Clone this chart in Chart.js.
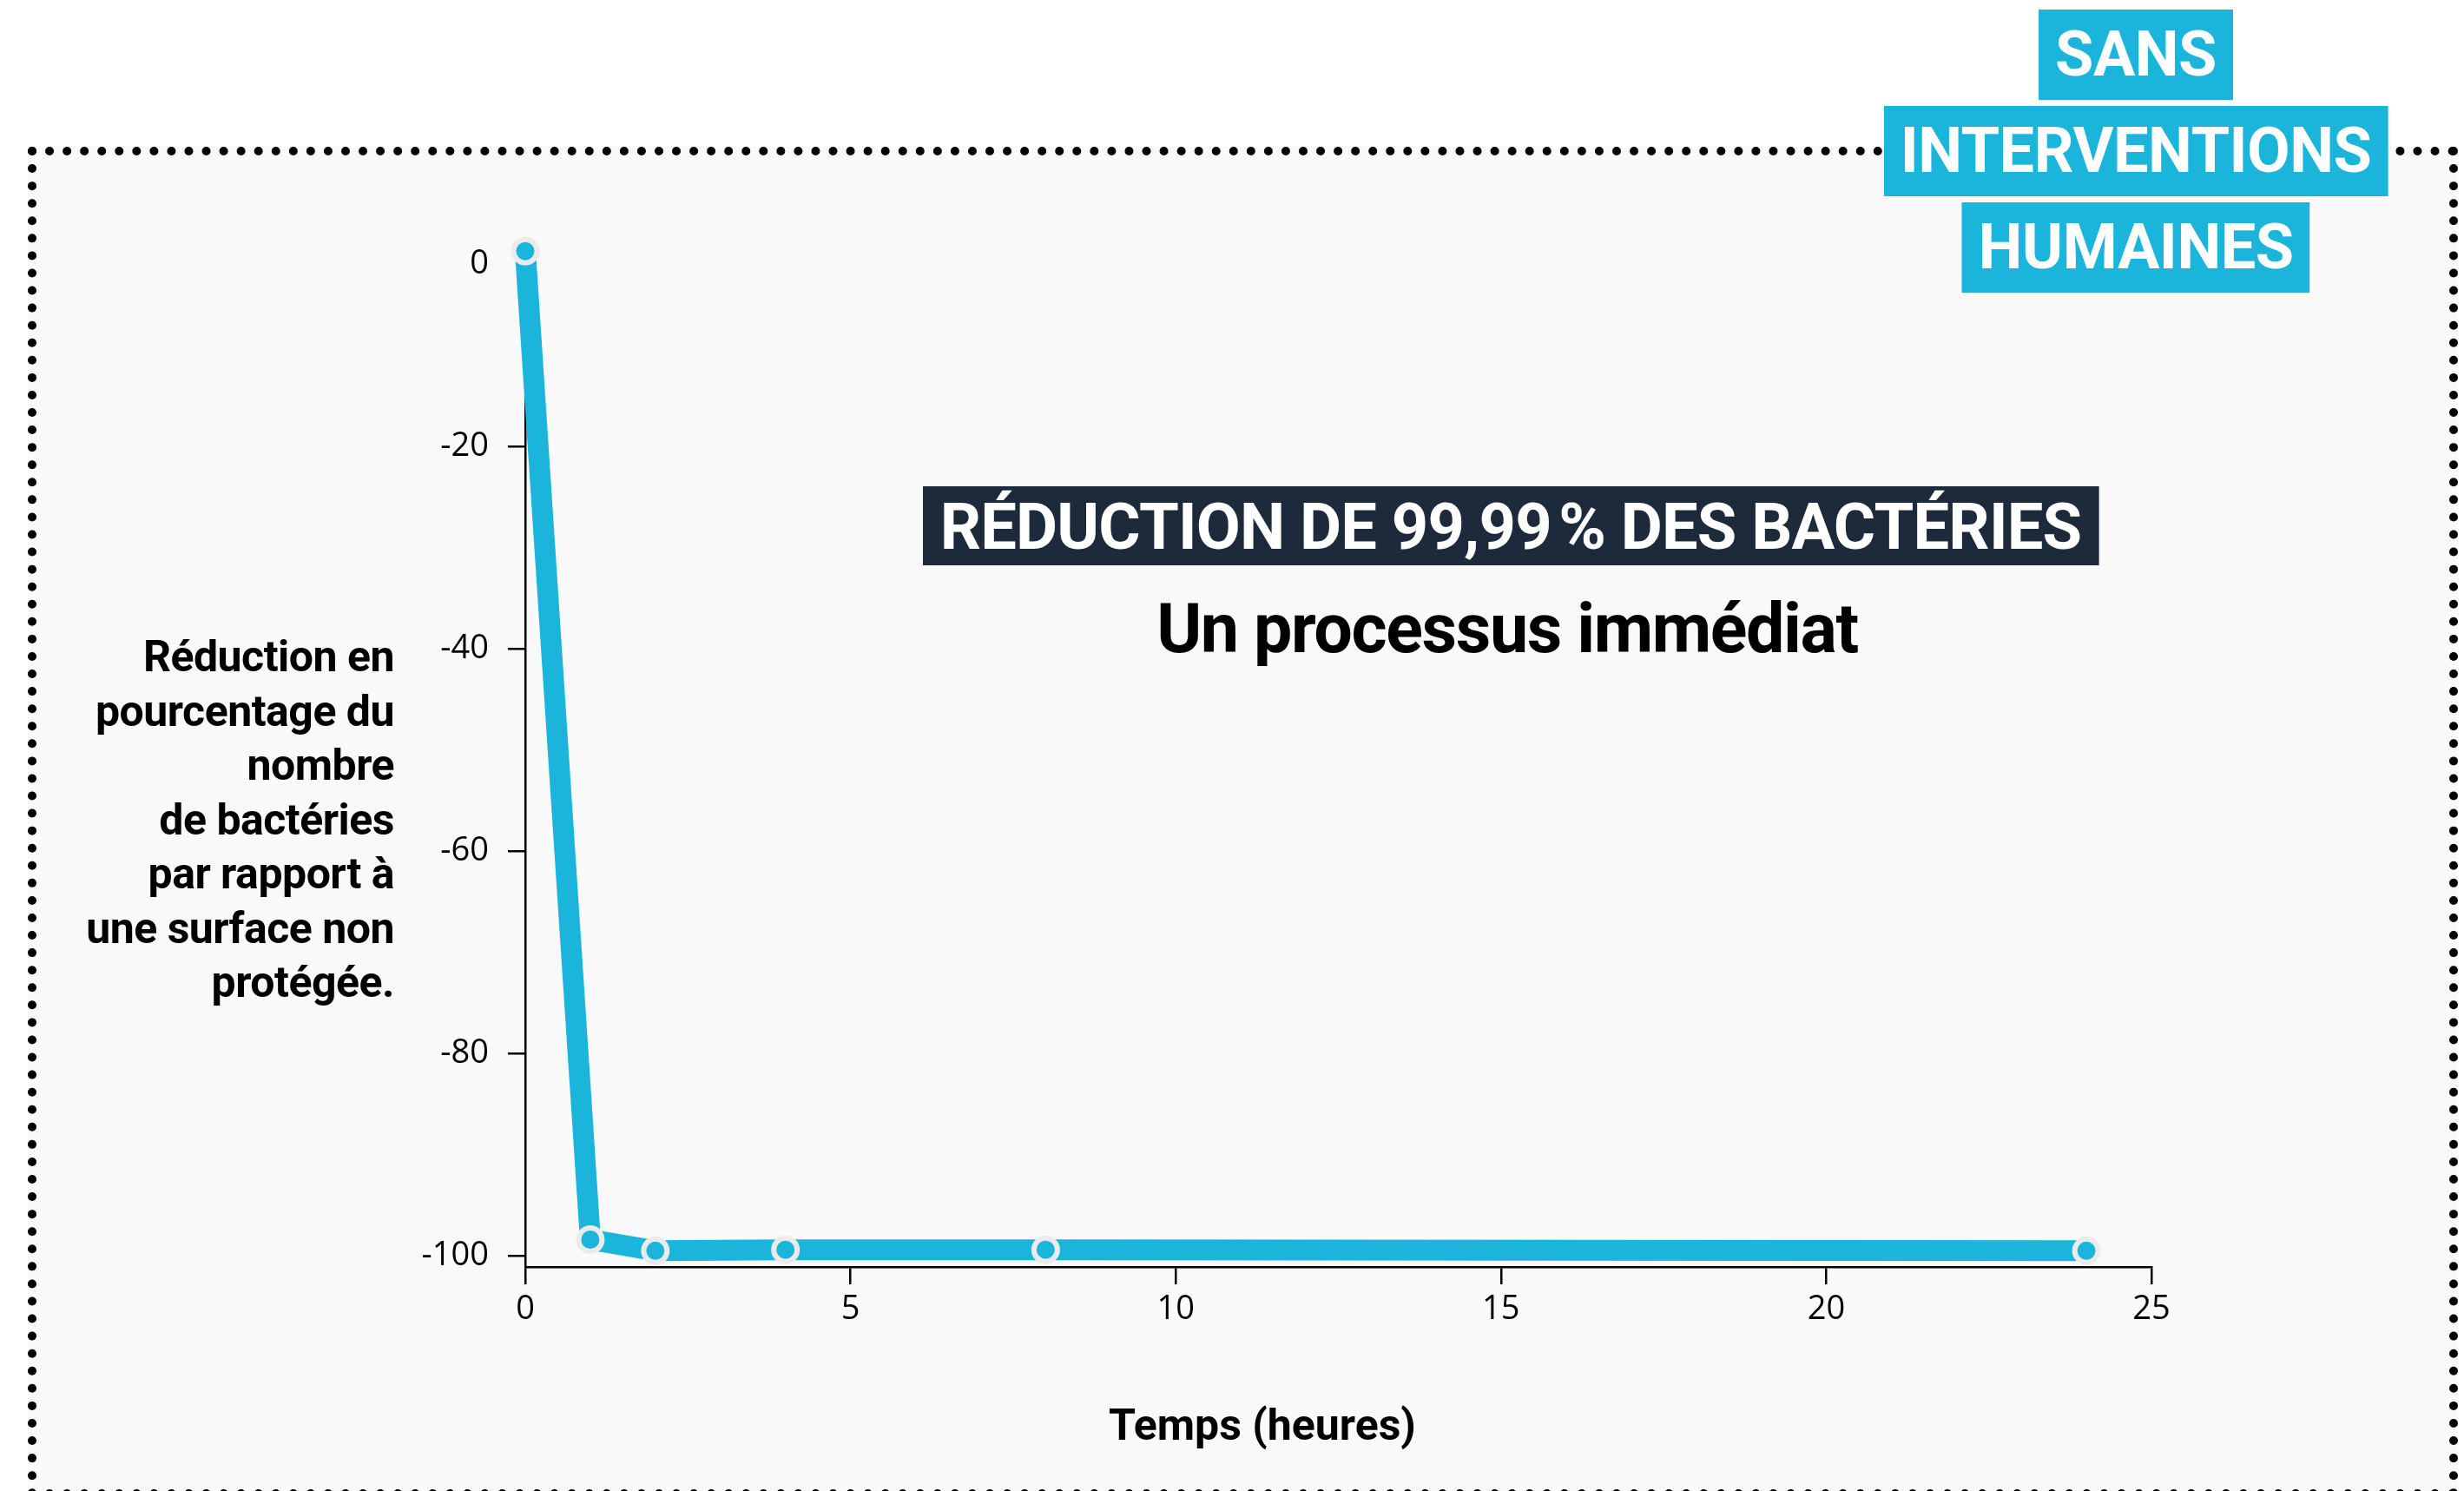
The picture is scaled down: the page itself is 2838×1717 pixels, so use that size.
<!DOCTYPE html>
<html lang="fr">
<head>
<meta charset="utf-8">
<title>Réduction de 99,99 % des bactéries</title>
<script src="https://cdn.jsdelivr.net/npm/chart.js@4.4.1/dist/chart.umd.min.js"></script>
<style>
  html, body { margin: 0; padding: 0; background: #fff; }
  body { width: 2838px; height: 1717px; position: relative; overflow: hidden; font-family: Roboto, "Noto Sans", sans-serif; color: #000; }
  .panel { position: absolute; left: 32px; top: 169px; width: 2799px; height: 1556px; box-sizing: border-box; border: 10px dotted #000; background: #f9f9f9; }
  #chart { position: absolute; left: 0; top: 0; }
  .badge { position: absolute; left: 2460px; transform: translateX(-50%); height: 104px; line-height: 104px; padding: 0 19px; background: #1bb4da; color: #fff; font-weight: 700; font-size: 72px; letter-spacing: -0.5px; white-space: nowrap; }
  .title { position: absolute; left: 1740px; top: 560px; transform: translateX(-50%); height: 91px; line-height: 93px; padding: 0 20px; background: #1c2a3b; color: #fff; font-weight: 700; font-size: 74px; letter-spacing: -0.8px; white-space: nowrap; }
  .subtitle { position: absolute; left: 1736px; top: 678px; transform: translateX(-50%); font-weight: 700; font-size: 79px; letter-spacing: -1.4px; line-height: 92px; white-space: nowrap; }
  .ytitle { position: absolute; right: 2384px; top: 725px; text-align: right; font-weight: 700; font-size: 50px; letter-spacing: -0.5px; line-height: 62.5px; white-space: nowrap; }
  .xtitle { position: absolute; left: 1454px; top: 1610px; transform: translateX(-50%); font-weight: 700; font-size: 50px; line-height: 62px; white-space: nowrap; }
</style>
</head>
<body>
<div class="panel"></div>
<canvas id="chart" width="2838" height="1717"></canvas>

<div class="badge" style="top:11px">SANS</div>
<div class="badge" style="top:122px">INTERVENTIONS</div>
<div class="badge" style="top:233px">HUMAINES</div>

<div class="title">RÉDUCTION DE 99,99&#8239;% DES BACTÉRIES</div>
<div class="subtitle">Un processus immédiat</div>
<div class="ytitle">Réduction en<br>pourcentage du<br>nombre<br>de bactéries<br>par rapport à<br>une surface non<br>protégée.</div>
<div class="xtitle">Temps (heures)</div>

<script>
// data
const hours = [0, 1, 2, 4, 8, 24];
const reduction = [-0.7, -98.4, -99.5, -99.4, -99.4, -99.5];
const xTicks = [0, 5, 10, 15, 20, 25];
const yTicks = [0, -20, -40, -60, -80, -100];

const cyan = '#1bb4da';
const tickFont = { family: '"Open Sans", "Noto Sans", sans-serif', size: 38 };

const chart = document.getElementById('chart');

new Chart(chart, {
  type: 'line',
  data: {
    datasets: [{
      data: hours.map((h, i) => ({ x: h, y: reduction[i] })),
      borderColor: cyan,
      borderWidth: 24,
      pointRadius: 13.5,
      pointBorderWidth: 6,
      pointBackgroundColor: cyan,
      pointBorderColor: '#ebebeb',
      pointHoverRadius: 13.5,
      clip: false
    }]
  },
  options: {
    responsive: false,
    animation: false,
    devicePixelRatio: 1,
    events: [],
    layout: {
      padding: { left: 405, right: 360, top: 281, bottom: 158 }
    },
    plugins: {
      legend: { display: false },
      tooltip: { enabled: false }
    },
    scales: {
      x: {
        type: 'linear',
        min: 0,
        max: 25,
        afterBuildTicks: s => { s.ticks = xTicks.map(v => ({ value: v })); },
        afterFit: s => { s.height = 100; },
        ticks: { font: tickFont, color: '#000', padding: 6 },
        grid: { drawOnChartArea: false, tickLength: 20, color: '#000', lineWidth: 2.5 },
        border: { color: '#000', width: 2.5 }
      },
      y: {
        type: 'linear',
        min: -101.1,
        max: 0,
        afterBuildTicks: s => { s.ticks = yTicks.map(v => ({ value: v })); },
        afterFit: s => { s.width = 200; },
        ticks: {
          font: tickFont,
          color: '#000',
          padding: 22,
          // top label sits flush inside the axis, like the original
          callback: v => v === 0 ? ['', '0'] : String(v)
        },
        grid: {
          drawOnChartArea: false,
          tickLength: 20,
          color: '#000',
          tickColor: ctx => ctx.tick && ctx.tick.value === 0 ? 'rgba(0,0,0,0)' : '#000',
          lineWidth: 2.5
        },
        border: { color: '#000', width: 2.5 }
      }
    }
  }
});
</script>
</body>
</html>
